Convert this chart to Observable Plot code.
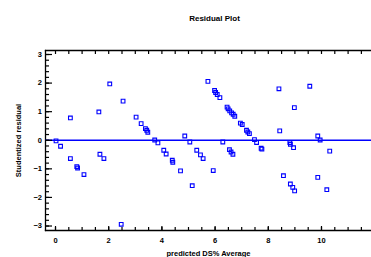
<!DOCTYPE html>
<html><head><meta charset="utf-8">
<script src="https://cdn.jsdelivr.net/npm/d3@7"></script>
<script src="https://cdn.jsdelivr.net/npm/@observablehq/plot@0.6"></script>
<style>html,body{margin:0;padding:0;overflow:hidden;background:#fff}</style>
</head><body><div id="chart"></div>
<script>
const predicted = [0.02,0.19,0.56,0.56,0.80,0.83,1.07,1.63,1.67,1.82,2.04,2.54,2.47,3.03,3.22,3.38,3.43,3.47,3.73,3.85,4.07,4.16,4.39,4.41,4.70,4.86,5.05,5.14,5.31,5.45,5.55,5.73,5.93,5.98,6.02,6.08,6.18,6.29,6.45,6.49,6.55,6.62,6.68,6.74,6.54,6.60,6.67,6.95,7.02,7.18,7.23,7.29,7.48,7.56,7.73,7.76,8.40,8.43,8.57,8.81,8.83,8.95,8.83,8.92,8.99,8.98,9.56,9.86,9.95,10.31,9.86,10.20];
const residual = [-0.02,-0.21,0.78,-0.64,-0.92,-0.97,-1.20,0.99,-0.49,-0.64,1.97,1.37,-2.94,0.81,0.58,0.41,0.35,0.28,0.01,-0.09,-0.35,-0.48,-0.70,-0.77,-1.07,0.15,-0.06,-1.59,-0.35,-0.51,-0.64,2.06,-1.06,1.74,1.67,1.60,1.49,-0.06,1.16,1.10,1.03,0.96,0.91,0.84,-0.33,-0.41,-0.49,0.60,0.55,0.35,0.29,0.23,0.02,-0.08,-0.28,-0.31,1.80,0.33,-1.24,-0.08,-0.14,-0.26,-1.53,-1.65,-1.77,1.14,1.89,0.15,0.01,-0.38,-1.30,-1.73];
const xTickLabels = [0,2,4,6,8,10];
const yTickLabels = [-3,-2,-1,0,1,2,3];
const xMinorTicks = d3.range(0, 11.51, 0.5);
const yMinorTicks = d3.range(-3, 3.01, 0.2).map(v => Math.round(v*10)/10);

const data = predicted.map((x, i) => ({x, y: residual[i]}));
const blue = "#0000ff";

const chart = Plot.plot({
  width: 371, height: 257,
  marginLeft: 45, marginRight: 0, marginTop: 50, marginBottom: 27,
  x: {domain: [-0.376, 11.88]},
  y: {domain: [-3.157, 3.14]},
  style: {fontFamily: "'Liberation Sans Narrow', 'Liberation Sans', Arial, sans-serif", fontSize: "7.5px", fontWeight: "bold", background: "#fff"},
  marks: [
    Plot.frame({anchor: "top", stroke: "black", strokeWidth: 1.3}),
    Plot.frame({anchor: "bottom", stroke: "black", strokeWidth: 1.3}),
    Plot.frame({anchor: "left", stroke: "black", strokeWidth: 1.3}),
    Plot.ruleY([0], {stroke: blue, strokeWidth: 1.3}),
    Plot.axisX(xMinorTicks, {anchor: "bottom", tickSize: -3, tickFormat: () => "", label: null, strokeWidth: 1.2}),
    Plot.axisX(xMinorTicks, {anchor: "top", tickSize: -3, tickFormat: () => "", label: null, strokeWidth: 1.2}),
    Plot.axisX(xTickLabels, {anchor: "bottom", tickSize: -4, tickPadding: 11, strokeWidth: 1.2, label: "predicted DS% Average", labelAnchor: "center", labelOffset: 25, labelArrow: "none"}),
    Plot.axisY(yMinorTicks, {anchor: "left", tickSize: -4, tickFormat: () => "", label: null, strokeWidth: 1.2}),
    Plot.axisY(yTickLabels, {anchor: "left", tickSize: -7, tickPadding: 10.5, strokeWidth: 1.2, label: "Studentized residual", labelAnchor: "center", labelOffset: 30, labelArrow: "none"}),
    Plot.dot(data, {x: "x", y: "y", symbol: "square", r: 2.1, stroke: blue, strokeWidth: 1.1, fill: "none"}),
    Plot.text(["Residual Plot"], {frameAnchor: "top", dy: -35, dx: 6, fontSize: 8, fontWeight: "bold"})
  ]
});
document.getElementById("chart").appendChild(chart);
</script>
</body></html>
